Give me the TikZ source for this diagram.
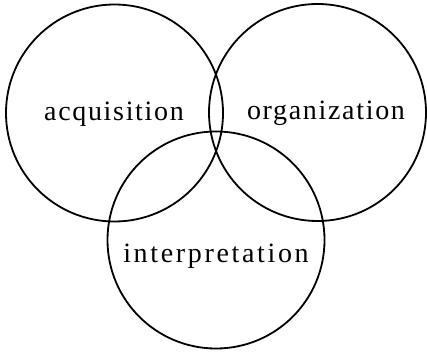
\documentclass[tikz,border=0pt]{standalone}
\usepackage{fontspec}
\setmainfont{Liberation Serif}
\newfontfamily\lblfont[LetterSpace=6]{Liberation Serif}
\newfontfamily\lblfontwide[LetterSpace=9.5]{Liberation Serif}
\tikzset{
  ring/.style={circle, draw=black, line width=1.8pt, minimum size=217pt, inner sep=0pt},
  lbl/.style={font=\lblfont\fontsize{28}{32}\selectfont, inner sep=0pt},
  lblwide/.style={font=\lblfontwide\fontsize{28}{32}\selectfont, inner sep=0pt}
}
\begin{document}
\begin{tikzpicture}[x=1pt,y=-1pt]
\useasboundingbox (0,0) rectangle (427,352);
\node[ring] (acq) at (114.5,113) {};
\node[ring] (org) at (317.5,112.5) {};
\node[ring] (int) at (216,240) {};
\node[lbl] (tacq) at (114,114) {acquisition};
\node[lbl] (torg) at (326,113) {organization};
\node[lblwide] (tint) at (216,256) {interpretation};
\end{tikzpicture}
\end{document}
